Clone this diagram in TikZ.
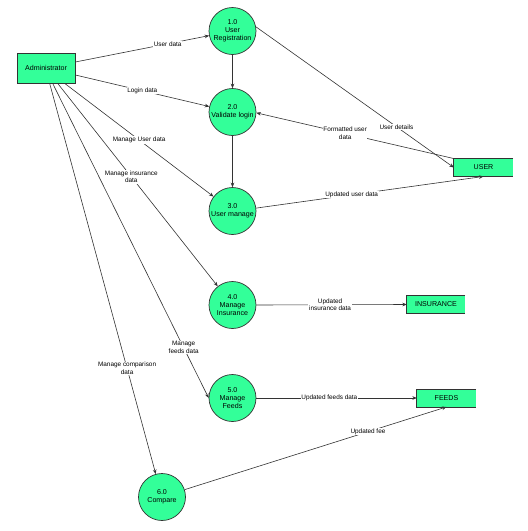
\documentclass[tikz,border=0pt]{standalone}
\usepackage{fontspec}
\setmainfont{Liberation Sans}
\usetikzlibrary{arrows.meta}
\definecolor{nodegreen}{RGB}{51,255,153}
\definecolor{linegray}{RGB}{51,51,51}
\begin{document}
\begin{tikzpicture}[x=1pt,y=-1pt,
  proc/.style={circle,fill=nodegreen,draw=linegray,line width=0.7pt,minimum size=47pt,inner sep=0pt,align=center,font=\fontsize{7.1}{8.2}\selectfont},
  ent/.style={rectangle,fill=nodegreen,draw=linegray,line width=0.7pt,minimum width=58pt,minimum height=30pt,inner sep=0pt,font=\fontsize{7.1}{8.2}\selectfont},
  store/.style={rectangle,fill=nodegreen,draw=none,minimum height=17.5pt,inner sep=0pt,font=\fontsize{7.1}{8.2}\selectfont},
  storeline/.style={draw=linegray,line width=0.7pt},
  flow/.style={draw=linegray,line width=0.6pt,-{Stealth[length=4.5pt,width=3.6pt]}},
  lbl/.style={fill=white,inner sep=0.6pt,align=center,font=\fontsize{6.4}{7.7}\selectfont}]
\useasboundingbox (0,0) rectangle (528,531);

\node[ent] (adm) at (46,68) {Administrator};
\node[proc] (c1) at (232.5,31) {1.0\\User\\Registration};
\node[proc] (c2) at (232.5,112) {2.0\\Validate login};
\node[proc] (c3) at (232.5,211) {3.0\\User manage};
\node[proc] (c4) at (232.5,305) {4.0\\Manage\\Insurance};
\node[proc] (c5) at (232.5,398) {5.0\\Manage\\Feeds};
\node[proc] (c6) at (162,497) {6.0\\Compare};

\node[store,minimum width=59pt] (usr) at (483.5,167.5) {USER};
\node[store,minimum width=58pt] (ins) at (436,304.5) {INSURANCE};
\node[store,minimum width=59pt] (fds) at (446.5,398) {FEEDS};
\draw[storeline] (usr.north east) -- (usr.north west) -- (usr.south west) -- (usr.south east);
\draw[storeline] (ins.north east) -- (ins.north west) -- (ins.south west) -- (ins.south east);
\draw[storeline] (fds.north east) -- (fds.north west) -- (fds.south west) -- (fds.south east);

\draw[flow] ([yshift=6pt]adm.east) -- node[lbl,pos=0.69] {User data} (c1);
\draw[flow] ([yshift=-7pt]adm.east) -- node[lbl,pos=0.5] {Login data} (c2);
\draw[flow] (c1) -- (c2);
\draw[flow] (c2) -- (c3);
\draw[flow] ([xshift=48pt]adm.south west) -- node[lbl,pos=0.5] {Manage User data} (c3);
\draw[flow] ([xshift=41pt]adm.south west) -- node[lbl,pos=0.46] {Manage insurance\\data} (c4);
\draw[flow] ([xshift=36pt]adm.south west) -- node[lbl,pos=0.84] {Manage\\feeds data} (c5.west);
\draw[flow] ([xshift=33pt]adm.south west) -- node[lbl,pos=0.73] {Manage comparison\\data} (c6);

\draw[flow] (c1.10) -- node[lbl,pos=0.71] {User details} (usr.west);
\draw[flow] (usr.north west) -- node[lbl,pos=0.55] {Formatted user\\data} (c2.358);
\draw[flow] (c3.7) -- node[lbl,pos=0.42] {Updated user data} (usr.south);
\draw[flow] (c4.east) -- node[lbl,pos=0.49] {Updated\\insurance data} (ins.west);
\draw[flow] (c5.east) -- node[lbl,pos=0.455] {Updated feeds data} (fds.west);
\draw[flow] (c6.18) -- node[lbl,pos=0.7] {Updated fee} (fds.south);
\end{tikzpicture}
\end{document}
